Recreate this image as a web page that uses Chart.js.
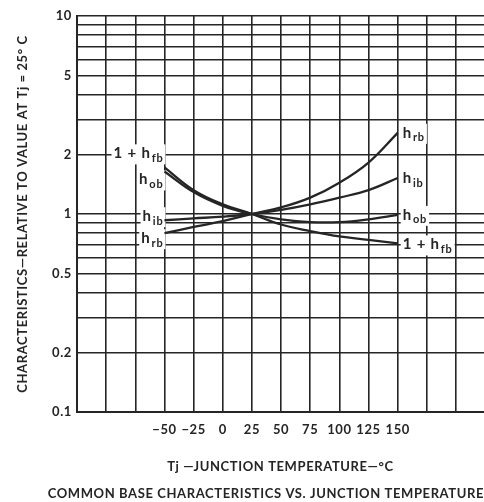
<!DOCTYPE html>
<html>
<head>
<meta charset="utf-8">
<script src="https://cdn.jsdelivr.net/npm/chart.js@4"></script>
<style>
  body { margin: 0; background: #fff; }
  canvas { display: block; }
</style>
</head>
<body>
<canvas id="myChart" width="484" height="502"></canvas>
<script>
// junction temperature, degrees C
var temps = [-50, -25, 0, 25, 50, 75, 100, 125, 150];

// characteristics relative to value at Tj = 25 C
var hrb  = [0.80, 0.86, 0.92, 1.0, 1.08, 1.21, 1.44, 1.82, 2.57];
var hib  = [0.93, 0.95, 0.97, 1.0, 1.05, 1.12, 1.21, 1.32, 1.52];
var hob  = [1.64, 1.29, 1.10, 1.0, 0.94, 0.91, 0.91, 0.94, 0.99];
var hfb1 = [1.72, 1.32, 1.12, 1.0, 0.885, 0.82, 0.77, 0.74, 0.71];

var xGrid = [-125, -100, -75, -50, -25, 0, 25, 50, 75, 100, 125, 150, 175, 200];
var xLabels = [-50, -25, 0, 25, 50, 75, 100, 125, 150];
var yGrid = [0.1, 0.2, 0.3, 0.4, 0.5, 0.6, 0.7, 0.8, 0.9, 1, 2, 3, 4, 5, 6, 7, 8, 9, 10];
var yLabels = [0.1, 0.2, 0.5, 1, 2, 5, 10];

var ink = "#252525";
var fontFam = "Lato, 'Open Sans', sans-serif";

function pts(arr) {
  return temps.map(function (t, i) { return {x: t, y: arr[i]}; });
}

// curve labels: main text + subscript, offsets from left / right curve ends
var curveLabels = [
  {main: "h", sub: "rb", left: [-1, 5], right: [5, 0]},
  {main: "h", sub: "ib", left: [-1, -4], right: [5, 0]},
  {main: "h", sub: "ob", left: [-1, 8], right: [5, 0]},
  {main: "1 + h", sub: "fb", left: [-1, -14], right: [5, 1]}
];

function drawLabel(ctx, x, y, lab, alignRight) {
  ctx.font = "bold 15px " + fontFam;
  var w1 = ctx.measureText(lab.main).width;
  ctx.font = "bold 11px " + fontFam;
  var w2 = ctx.measureText(lab.sub).width;
  var w = w1 + w2 + 1;
  var left = alignRight ? x - w : x;
  ctx.fillStyle = "#fff";
  ctx.fillRect(left - 2, y - 9, w + 4, 20);
  ctx.fillStyle = ink;
  ctx.textBaseline = "middle";
  ctx.textAlign = "left";
  ctx.font = "bold 15px " + fontFam;
  ctx.fillText(lab.main, left, y);
  ctx.font = "bold 11px " + fontFam;
  ctx.fillText(lab.sub, left + w1 + 1, y + 5);
}

var spacingPlugin = {
  id: "spacing",
  beforeUpdate: function (chart) { chart.ctx.letterSpacing = "0.6px"; },
  beforeDraw: function (chart) { chart.ctx.letterSpacing = "0.6px"; }
};

var labelPlugin = {
  id: "curveLabels",
  beforeDatasetsDraw: function (chart) {
    var ctx = chart.ctx;
    ctx.save();
    ctx.letterSpacing = "0.8px";
    curveLabels.forEach(function (lab, i) {
      var d = chart.getDatasetMeta(i).data;
      var a = d[0], b = d[d.length - 1];
      drawLabel(ctx, a.x + lab.left[0], a.y + lab.left[1], lab, true);
      drawLabel(ctx, b.x + lab.right[0], b.y + lab.right[1], lab, false);
    });
    ctx.restore();
  }
};

function ds(arr) {
  return {data: pts(arr), borderColor: ink, borderWidth: 2.3, pointRadius: 0, tension: 0.4, fill: false};
}

new Chart("myChart", {
  type: "line",
  data: {
    datasets: [ds(hrb), ds(hib), ds(hob), ds(hfb1)]
  },
  plugins: [spacingPlugin, labelPlugin],
  options: {
    responsive: false,
    animation: false,
    layout: {padding: {top: 16, right: 0, left: 0, bottom: 0}},
    plugins: {
      legend: {display: false},
      tooltip: {enabled: false},
      title: {
        display: true,
        position: "bottom",
        align: "end",
        text: "COMMON BASE CHARACTERISTICS VS. JUNCTION TEMPERATURE",
        color: ink,
        font: {family: fontFam, size: 13, weight: "bold"},
        padding: {top: 2, bottom: 0}
      }
    },
    scales: {
      x: {
        type: "linear",
        min: -125,
        max: 224,
        afterBuildTicks: function (s) { s.ticks = xGrid.map(function (v) { return {value: v}; }); },
        afterFit: function (s) { s.height = 72.4; },
        grid: {color: ink, lineWidth: 1.6, drawTicks: false},
        border: {color: ink, width: 2},
        ticks: {
          padding: 10,
          color: ink,
          maxRotation: 0,
          autoSkip: false,
          font: {family: fontFam, size: 13, weight: "bold"},
          callback: function (v) {
            if (xLabels.indexOf(v) < 0) return "";
            return v < 0 ? "\u2212" + Math.abs(v) : String(v);
          }
        },
        title: {
          display: true,
          text: "Tj \u2014JUNCTION TEMPERATURE\u2014\u00b0C",
          color: ink,
          font: {family: fontFam, size: 13, weight: "bold"},
          padding: {top: 0, bottom: 10}
        }
      },
      y: {
        type: "logarithmic",
        min: 0.1,
        max: 10,
        afterBuildTicks: function (s) { s.ticks = yGrid.map(function (v) { return {value: v}; }); },
        afterFit: function (s) { s.width = 77; },
        grid: {color: ink, lineWidth: 1.6, drawTicks: false},
        border: {color: ink, width: 2},
        ticks: {
          padding: 5,
          color: ink,
          autoSkip: false,
          font: {family: fontFam, size: 13, weight: "bold"},
          callback: function (v) {
            return yLabels.indexOf(v) < 0 ? "" : String(v);
          }
        },
        title: {
          display: true,
          text: "CHARACTERISTICS\u2014RELATIVE TO VALUE AT Tj = 25\u00b0 C",
          color: ink,
          font: {family: fontFam, size: 13, weight: "bold"},
          padding: {top: 15, bottom: 0}
        }
      }
    }
  }
});
</script>
</body>
</html>
